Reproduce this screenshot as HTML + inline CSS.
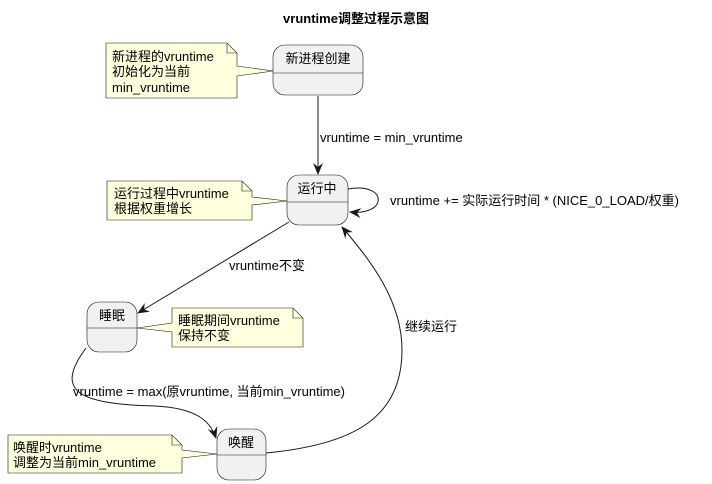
<!DOCTYPE html>
<html><head><meta charset="utf-8"><style>
html,body{margin:0;padding:0;background:#fff;}
svg{display:block;}
text{font-family:"Liberation Sans","DejaVu Sans","Noto Sans CJK SC",sans-serif;font-size:13px;fill:#000;}
</style></head><body>
<svg width="712" height="484" viewBox="0 0 712 484" xmlns="http://www.w3.org/2000/svg">
<defs>
<marker id="a" viewBox="0 0 12 10" refX="11" refY="5" markerWidth="12" markerHeight="10" orient="auto" markerUnits="userSpaceOnUse">
<path d="M0,0 L12,5 L0,10 L4,5 Z" fill="#181818"/>
</marker>
</defs>
<text x="356" y="23" text-anchor="middle" style="font-weight:bold">vruntime调整过程示意图</text>

<!-- notes -->
<g fill="#FEFFDD" stroke="#181818" stroke-width="0.6">
<path d="M106,43 L227,43 L237,53 L237,66 L273,71 L237,76 L237,98 L106,98 Z"/>
<path d="M107,181 L242,181 L252,191 L252,197 L287,201 L252,205 L252,220 L107,220 Z"/>
<path d="M172,308 L293,308 L303,318 L303,347 L172,347 L172,332 L137,328 L172,323 Z"/>
<path d="M8,435 L172,435 L182,445 L182,450 L217,454 L182,458 L182,473 L8,473 Z"/>
</g>
<g fill="none" stroke="#181818" stroke-width="0.6">
<path d="M227,43 L227,53 L237,53"/><path d="M242,181 L242,191 L252,191"/>
<path d="M293,308 L293,318 L303,318"/><path d="M172,435 L172,445 L182,445"/>
</g>
<text x="112" y="61">新进程的vruntime</text>
<text x="112" y="76">初始化为当前</text>
<text x="112" y="92">min_vruntime</text>
<text x="114" y="198">运行过程中vruntime</text>
<text x="114" y="213">根据权重增长</text>
<text x="178" y="325">睡眠期间vruntime</text>
<text x="178" y="340">保持不变</text>
<text x="13" y="452">唤醒时vruntime</text>
<text x="13" y="467">调整为当前min_vruntime</text>

<!-- states -->
<g fill="#F1F1F1" stroke="#181818" stroke-width="0.6">
<rect x="273" y="45" width="90" height="50" rx="12"/>
<rect x="287" y="175" width="61" height="50" rx="12"/>
<rect x="87" y="302" width="50" height="50" rx="12"/>
<rect x="217" y="429" width="49" height="51" rx="12"/>
</g>
<g stroke="#181818" stroke-width="0.6">
<line x1="273" y1="73" x2="363" y2="73"/>
<line x1="287" y1="202" x2="348" y2="202"/>
<line x1="87" y1="328" x2="137" y2="328"/>
<line x1="217" y1="455" x2="266" y2="455"/>
</g>
<text x="318" y="63" text-anchor="middle">新进程创建</text>
<text x="317" y="193" text-anchor="middle">运行中</text>
<text x="112" y="320" text-anchor="middle">睡眠</text>
<text x="241" y="447" text-anchor="middle">唤醒</text>

<!-- edges -->
<g fill="none" stroke="#181818" stroke-width="1">
<path d="M318,96 L318,174" marker-end="url(#a)"/>
<path d="M348,189 C388,182 388,216 350,212" marker-end="url(#a)"/>
<path d="M289,222 L138,313" marker-end="url(#a)"/>
<path d="M86,348 C55,390 75,404 155,406 C195,408 210,420 216,438" marker-end="url(#a)"/>
<path d="M266,453 C350,445 402,420 402,350 C402,300 370,260 342,227" marker-end="url(#a)"/>
</g>
<text x="320" y="142">vruntime = min_vruntime</text>
<text x="390" y="205">vruntime += 实际运行时间 * (NICE_0_LOAD/权重)</text>
<text x="229" y="270">vruntime不变</text>
<text x="73" y="396">vruntime = max(原vruntime, 当前min_vruntime)</text>
<text x="405" y="331">继续运行</text>
</svg>
</body></html>
